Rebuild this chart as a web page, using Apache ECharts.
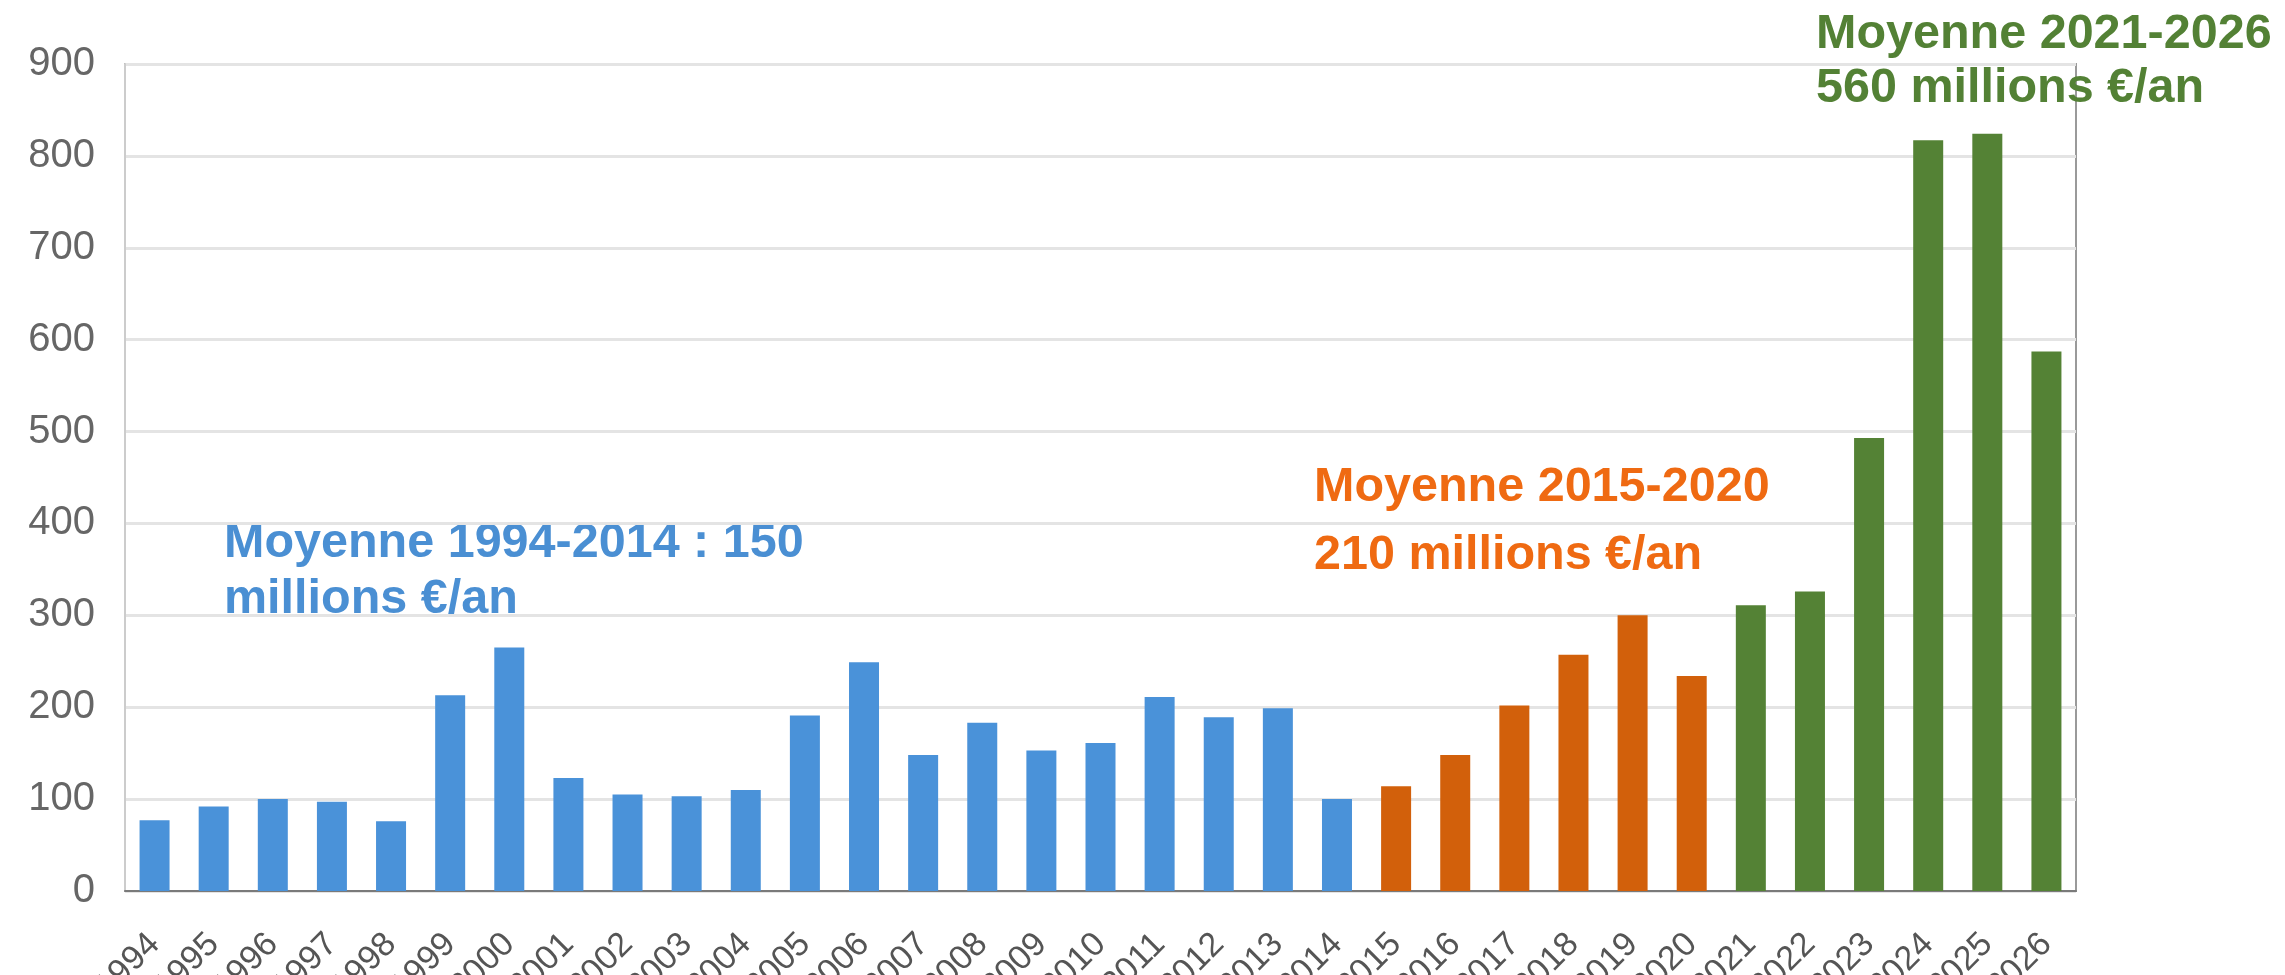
<!DOCTYPE html>
<html>
<head>
<meta charset="utf-8">
<script src="https://cdn.jsdelivr.net/npm/echarts@6/dist/echarts.min.js"></script>
<style>
html,body{margin:0;padding:0;background:#fff;}
#chart{width:2285px;height:975px;}
</style>
</head>
<body>
<div id="chart"></div>
<script>
var years = ['1994','1995','1996','1997','1998','1999','2000','2001','2002','2003','2004','2005','2006','2007','2008','2009','2010','2011','2012','2013','2014','2015','2016','2017','2018','2019','2020','2021','2022','2023','2024','2025','2026'];
var blueValues = [77, 92, 100, 97, 76, 213, 265, 123, 105, 103, 110, 191, 249, 148, 183, 153, 161, 211, 189, 199, 100];
var orangeValues = [114, 148, 202, 257, 300, 234];
var greenValues = [311, 326, 493, 817, 824, 587];
var yTicks = [0, 100, 200, 300, 400, 500, 600, 700, 800, 900];

var blueLabel = 'Moyenne 1994-2014 : 150\nmillions €/an';
var orangeLabel = 'Moyenne 2015-2020\n210 millions €/an';
var greenLabel = 'Moyenne 2021-2026\n560 millions €/an';

function pad(arr, before, total) {
  var out = [];
  for (var i = 0; i < total; i++) {
    var j = i - before;
    out.push(j >= 0 && j < arr.length ? arr[j] : '-');
  }
  return out;
}
var n = years.length;
var blueData = pad(blueValues, 0, n);
var orangeData = pad(orangeValues, blueValues.length, n);
var greenData = pad(greenValues, blueValues.length + orangeValues.length, n);

var chart = echarts.init(document.getElementById('chart'));
var font = '"Liberation Sans", Arial, sans-serif';
chart.setOption({
  animation: false,
  backgroundColor: '#ffffff',
  grid: { left: 125, right: 209, top: 64, bottom: 84, containLabel: false, outerBoundsMode: 'none', show: true, borderColor: '#9a9a9a', borderWidth: 2 },
  xAxis: {
    type: 'category',
    data: years,
    axisLine: { show: true, lineStyle: { color: '#7a7a7a', width: 2 } },
    axisTick: { show: false },
    axisLabel: { rotate: 45, margin: 48, fontSize: 34, color: '#555', fontFamily: font, interval: 0 },
    splitLine: { show: false }
  },
  yAxis: {
    type: 'value',
    min: yTicks[0],
    max: yTicks[yTicks.length - 1],
    interval: 100,
    axisLine: { show: true, lineStyle: { color: '#cccccc', width: 2 } },
    axisTick: { show: false },
    axisLabel: { fontSize: 40, color: '#666', fontFamily: font, margin: 30 },
    splitLine: { lineStyle: { color: '#e4e4e4', width: 3 } }
  },
  series: [
    { type: 'bar', stack: 'a', data: blueData, barWidth: 30, itemStyle: { color: '#4a92d9' } },
    { type: 'bar', stack: 'a', data: orangeData, barWidth: 30, itemStyle: { color: '#d2600b' } },
    { type: 'bar', stack: 'a', data: greenData, barWidth: 30, itemStyle: { color: '#548235' } }
  ],
  graphic: [
    { type: 'text', left: 224, top: 516, style: { text: blueLabel, fill: '#4a8fd3', font: 'bold 48.5px ' + font, lineHeight: 56 } },
    { type: 'text', left: 1314, top: 454, style: { text: orangeLabel, fill: '#ef6a12', font: 'bold 48.5px ' + font, lineHeight: 68 } },
    { type: 'text', left: 1816, top: 8, style: { text: greenLabel, fill: '#538135', font: 'bold 48.5px ' + font, lineHeight: 54 } }
  ]
});
</script>
</body>
</html>
